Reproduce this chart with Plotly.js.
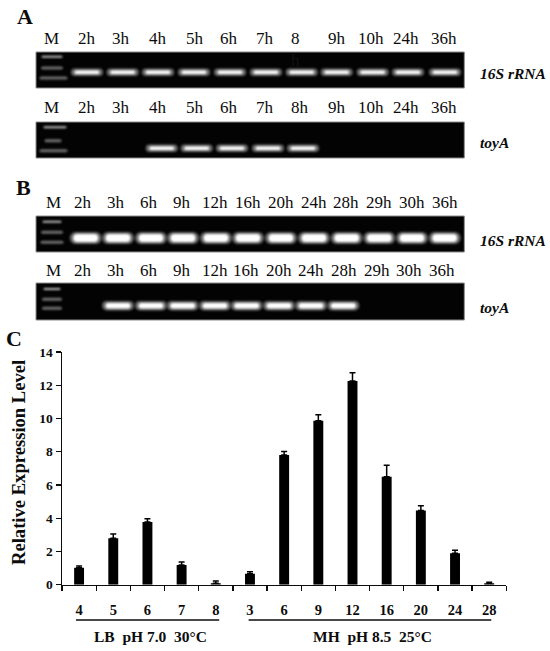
<!DOCTYPE html>
<html><head><meta charset="utf-8">
<script src="https://cdn.plot.ly/plotly-3.0.1.min.js"></script>
<style>html,body{margin:0;padding:0;background:#fff}#c{width:550px;height:651px}</style>
</head><body><div id="c"></div>
<script>
// ---------- bar chart (panel C) ----------
var hours = ['4','5','6','7','8','3','6','9','12','16','20','24','28'];
var expression = [1.02,2.79,3.77,1.18,0.08,0.66,7.8,9.87,12.25,6.5,4.47,1.89,0.08];
var expressionError = [0.10,0.26,0.20,0.18,0.14,0.12,0.22,0.36,0.50,0.68,0.28,0.18,0.07];

// ---------- gel panels: lane centres (px along gel strip), label centres, which lanes show a band ----------
var labelsA1 = ['M','2h','3h','4h','5h','6h','7h','8','9h','10h','24h','36h'];
var labelXA1 = [51.7,87,121,158,195,229,265,295.7,337,371,406,444];
var labelsA2 = ['M','2h','3h','4h','5h','6h','7h','8h','9h','10h','24h','36h'];
var labelXA2 = [51.7,87,121,158,195,229,265,300,337,371,406,444];
var labelsB = ['M','2h','3h','6h','9h','12h','16h','20h','24h','28h','29h','30h','36h'];
var labelXB1 = [53,83,116,149,182,215,248,281,314,346,379,412,445];
var labelXB2 = [53,83,116,149,182,215,246,279,311,344,377,409,442];

var bandsA1 = [87,122.7,158,194,230,266,301.7,336.7,372.7,408,445];
var bandsA2 = [161.7,196.7,232,268,303];
var bandsB1 = [85.7,118,151,183,216,248,281,314,346.7,379.3,412,444.7];
var bandsB2 = [118,151,182.7,215,246.7,279,311,343.3];

var markerDepthA1 = [4.7,16,26];
var markerDepthA2 = [5.3,18.7,28.7];
var markerDepthB1 = [5.7,16.3,26.3];
var markerDepthB2 = [6,16.3,25.3];

var W = 550, H = 651;
var gels = [
 {top:52, bottom:88, labelY:38, labels:labelsA1, labelX:labelXA1, bands:bandsA1, depth:20.3, thick:3.5, markers:markerDepthA1, markerX:[52,52,53.5], markerLen:[19,19,25], gene:'16S rRNA', geneY:73.5},
 {top:122, bottom:158, labelY:108, labels:labelsA2, labelX:labelXA2, bands:bandsA2, depth:26.3, thick:3.5, markers:markerDepthA2, markerX:[55,53,53.5], markerLen:[21,14,25], gene:'toyA', geneY:142},
 {top:216, bottom:252, labelY:202.7, labels:labelsB, labelX:labelXB1, bands:bandsB1, depth:22, thick:8, markers:markerDepthB1, markerX:[52,52,52], markerLen:[17,19,20], gene:'16S rRNA', geneY:240.7},
 {top:283, bottom:320, labelY:270, labels:labelsB, labelX:labelXB2, bands:bandsB2, depth:22.7, thick:5.5, markers:markerDepthB2, markerX:[52,52,52], markerLen:[15,17,17], gene:'toyA', geneY:307.7}
];
var gelLeft = 36, gelRight = 464.3, bandLen = 28;
var serif = '"Liberation Serif","Times New Roman",serif';
var ink = '#0c0c0c';

function py(p){ return 1 - p / H; }

var layout = {
  width:W, height:H, margin:{l:0,r:0,t:0,b:0}, showlegend:false,
  paper_bgcolor:'#fff', plot_bgcolor:'rgba(0,0,0,0)', bargap:0.71,
  font:{family:serif,color:ink},
  xaxis:{domain:[62/W,506.3/W], range:[0,13], anchor:'y', tickmode:'array',
    tickvals:hours.map(function(_,i){return i+0.5;}), ticktext:hours,
    ticks:'', ticklabelstandoff:11, tickfont:{family:serif,size:14.5,color:ink,weight:700},
    showline:true, linecolor:ink, linewidth:1.5, showgrid:false, zeroline:false,
    minor:{tickmode:'array', tickvals:hours.map(function(_,i){return i;}).concat([13]), ticks:'outside', ticklen:5, tickwidth:1.3, tickcolor:ink, showgrid:false}},
  yaxis:{domain:[py(584.7),py(352)], range:[0,14], anchor:'x', dtick:2, ticks:'outside', ticklen:5, tickwidth:1.3, tickcolor:ink,
    tickfont:{family:serif,size:13.5,color:ink,weight:700},
    showline:true, linecolor:ink, linewidth:1.5, showgrid:false, zeroline:false},
  shapes:[
    {type:'line', xref:'x', yref:'paper', x0:0.41, x1:4.6, y0:py(620), y1:py(620), line:{color:ink,width:1.5}},
    {type:'line', xref:'x', yref:'paper', x0:5.46, x1:12.56, y0:py(620), y1:py(620), line:{color:ink,width:1.5}}
  ],
  annotations:[
    {text:'<b>A</b>', x:25/W, y:py(17), size:22},
    {text:'<b>B</b>', x:23/W, y:py(187), size:22},
    {text:'<b>C</b>', x:14/W, y:py(338), size:22},
    {text:'<b>LB  pH 7.0  30°C</b>', x:150/W, y:py(636.7), size:15.5},
    {text:'<b>MH  pH 8.5  25°C</b>', x:372/W, y:py(636.7), size:15.5},
    {text:'<b>Relative Expression Level</b>', x:19/W, y:py(463), size:18.6, angle:-90}
  ].map(function(a){return {text:a.text,xref:'paper',yref:'paper',x:a.x,y:a.y,xanchor:'center',yanchor:'middle',showarrow:false,textangle:a.angle||0,font:{family:serif,size:a.size,color:ink}};})
};

var traces = [{
  type:'bar', x:hours.map(function(_,i){return i+0.5;}), y:expression,
  marker:{color:'#000',line:{width:0}},
  error_y:{type:'data',symmetric:false,array:expressionError,arrayminus:hours.map(function(){return 0;}),color:'#000',thickness:1.5,width:3},
  hoverinfo:'skip', xaxis:'x', yaxis:'y'
}];

function segs(centres, len){
  var xs=[], i;
  for(i=0;i<centres.length;i++){ xs.push(centres[i]-len/2, centres[i]+len/2, null); }
  return xs;
}
function rep(n, v){ var a=[],i; for(i=0;i<n*3;i++){ a.push(i%3===2?null:v); } return a; }

gels.forEach(function(g,idx){
  var n = idx+2, xk='xaxis'+n, yk='yaxis'+n, xa='x'+n, ya='y'+n;
  layout[xk] = {domain:[gelLeft/W,gelRight/W], range:[gelLeft,gelRight], anchor:ya, visible:false, fixedrange:true};
  layout[yk] = {domain:[py(g.bottom),py(g.top)], range:[g.bottom-g.top,0], anchor:xa, visible:false, fixedrange:true};
  layout.shapes.push({type:'rect', layer:'below', xref:xa+' domain', yref:ya+' domain', x0:0,x1:1,y0:0,y1:1,
    fillcolor:'#030303', line:{color:'#8c8c8c',width:1}});
  // DNA size-marker ladder
  g.markers.forEach(function(d,j){
    traces.push({type:'scatter',mode:'lines',x:[g.markerX[j]-g.markerLen[j]/2,g.markerX[j]+g.markerLen[j]/2],y:[d,d],
      line:{color:j===0?'#bdbdbd':'#6e6e6e',width:j===0?2:3},hoverinfo:'skip',xaxis:xa,yaxis:ya});
  });
  // product bands: dim halo + bright core
  traces.push({type:'scatter',mode:'lines',x:segs(g.bands,bandLen-g.thick),y:rep(g.bands.length,g.depth),
    line:{color:'#6a6a6a',width:g.thick+4},hoverinfo:'skip',xaxis:xa,yaxis:ya,connectgaps:false});
  traces.push({type:'scatter',mode:'lines',x:segs(g.bands,bandLen-g.thick-3),y:rep(g.bands.length,g.depth),
    line:{color:'#fff',width:g.thick},hoverinfo:'skip',xaxis:xa,yaxis:ya,connectgaps:false});
  // lane labels
  g.labels.forEach(function(t,j){
    layout.annotations.push({text:t,xref:xa,yref:'paper',x:g.labelX[j],y:py(g.labelY),xanchor:'center',yanchor:'middle',showarrow:false,
      font:{family:serif,size:17,color:ink}});
  });
  layout.annotations.push({text:'<b><i>'+g.gene+'</i></b>',xref:'paper',yref:'paper',x:478/W,y:py(g.geneY),xanchor:'left',yanchor:'middle',showarrow:false,
    font:{family:serif,size:15.5,color:ink}});
});
// the stray dark "h" that wrapped under the 8 label in the first gel
layout.annotations.push({text:'h',xref:'x2',yref:'paper',x:295.7,y:py(60),xanchor:'center',yanchor:'middle',showarrow:false,font:{family:serif,size:17,color:'#111'}});

Plotly.newPlot('c',traces,layout,{staticPlot:true,displayModeBar:false}).then(function(){
  document.querySelectorAll('.scatterlayer path.js-line').forEach(function(p){
    p.style.strokeLinecap='round';
    p.style.filter='blur(1.1px)';
  });
});
</script></body></html>
